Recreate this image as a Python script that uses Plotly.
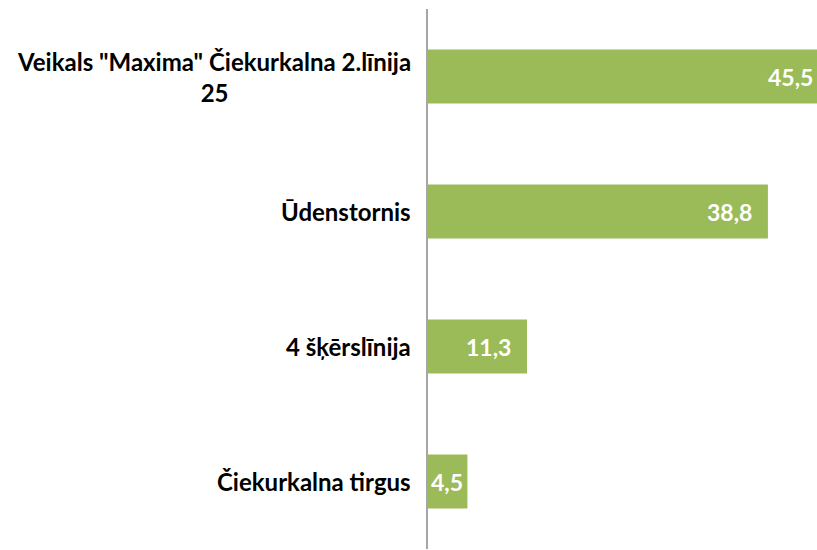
import plotly.graph_objects as go

categories = ['Veikals "Maxima" Čiekurkalna 2.līnija<br>25', "Ūdenstornis", "4 šķērslīnija", "Čiekurkalna tirgus"]
values = [45.5, 38.8, 11.3, 4.5]
value_labels = ["45,5", "38,8", "11,3", "4,5"]

X_MAX = 44.4
BAR_COLOR = "#9BBB59"
FONT = "Lato"
label_pad = [-2, -14, -14, -2]

fig = go.Figure()
fig.add_trace(go.Bar(
    y=list(range(len(categories))),
    x=values,
    orientation="h",
    marker=dict(color=BAR_COLOR, line=dict(width=0)),
    width=0.4,
    hoverinfo="skip",
))

annotations = []
for i, c in enumerate(categories):
    annotations.append(dict(
        xref="paper", yref="y", x=0, y=i, text=c, showarrow=False,
        xanchor="right", yanchor="middle", align="center", xshift=-15,
        font=dict(family=FONT, size=24, color="#000000", weight="bold"),
    ))
for i, (v, t) in enumerate(zip(values, value_labels)):
    annotations.append(dict(
        xref="x", yref="y", x=min(v, X_MAX), y=i, text=t, showarrow=False,
        xanchor="right", yanchor="middle", xshift=label_pad[i],
        font=dict(family=FONT, size=23, color="#FFFFFF", weight="bold"),
    ))

fig.update_layout(
    width=817, height=550,
    margin=dict(l=428, r=0, t=9, b=1),
    paper_bgcolor="white", plot_bgcolor="white",
    showlegend=False,
    annotations=annotations,
    xaxis=dict(range=[0, X_MAX], showgrid=False, zeroline=False, showticklabels=False, showline=False),
    yaxis=dict(range=[3.5, -0.5], showgrid=False, zeroline=False, showticklabels=False,
               showline=True, linecolor="#A6A6A6", linewidth=1.5, ticks=""),
)

fig.write_html("out.html", config={"displayModeBar": False},
               post_script="document.body.style.margin='0';document.body.style.overflow='hidden';")
